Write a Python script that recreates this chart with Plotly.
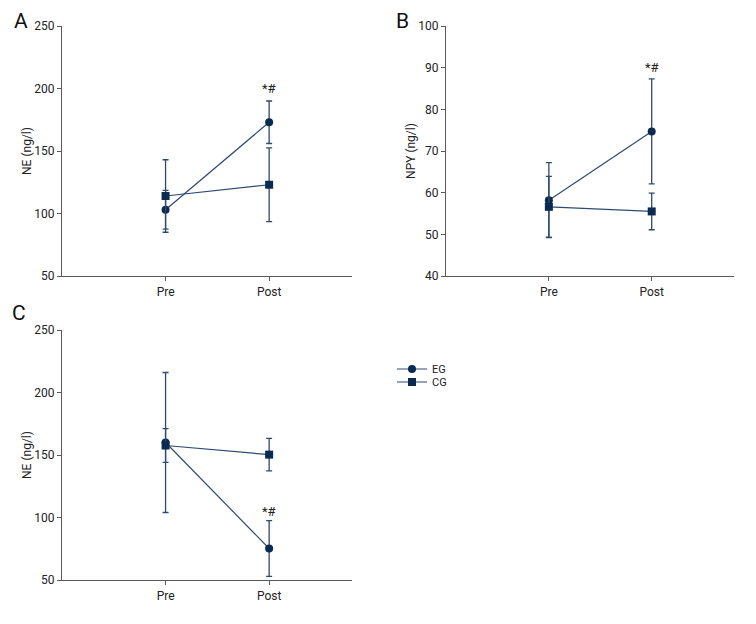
import plotly.graph_objects as go

timepoints = ["Pre", "Post"]
x_pos = [1, 2]

# Panel A: NE (ng/l)
a_eg = [103, 173]
a_eg_sd = [15.5, 17]
a_cg = [114, 123]
a_cg_sd = [29, 29.5]

# Panel B: NPY (ng/l)
b_eg = [58.2, 74.7]
b_eg_sd = [9, 12.6]
b_cg = [56.6, 55.5]
b_cg_sd = [7.3, 4.4]

# Panel C: NE (ng/l)
c_eg = [160, 75.2]
c_eg_sd = [56, 22.3]
c_cg = [157.6, 150.3]
c_cg_sd = [13.5, 13]

sig_label = "*#"
groups = ["EG", "CG"]

FONT = "Roboto, Liberation Sans Narrow, sans-serif"
MARK = "#0b2a52"
LINE = "#2e4a70"
AXIS = "#5a5a5a"

W, H, OFF = 740, 608, 8  # page body has an 8px margin


def px_x(sx):
    return (sx - OFF) / W


def px_y(sy):
    return 1 - (sy - OFF) / H


fig = go.Figure()

panels = [
    dict(xa="x", ya="y", eg=a_eg, egs=a_eg_sd, cg=a_cg, cgs=a_cg_sd, legend=True),
    dict(xa="x2", ya="y2", eg=b_eg, egs=b_eg_sd, cg=b_cg, cgs=b_cg_sd, legend=False),
    dict(xa="x3", ya="y3", eg=c_eg, egs=c_eg_sd, cg=c_cg, cgs=c_cg_sd, legend=False),
]

for p in panels:
    for name, vals, sds, sym, lg in [(groups[0], p["eg"], p["egs"], "circle", "legend"),
                                     (groups[1], p["cg"], p["cgs"], "square", "legend2")]:
        fig.add_trace(go.Scatter(
            x=x_pos, y=vals, name=name, mode="lines+markers",
            xaxis=p["xa"], yaxis=p["ya"], showlegend=p["legend"], legend=lg,
            line=dict(color=LINE, width=1.2),
            marker=dict(symbol=sym, size=8, color=MARK),
            error_y=dict(type="data", array=sds, visible=True,
                         color=LINE, thickness=1.3, width=3),
        ))

axis_common = dict(showline=True, linecolor=AXIS, linewidth=1.2, ticks="outside",
                   tickcolor=AXIS, ticklen=4, tickwidth=1, showgrid=False, zeroline=False,
                   automargin=False,
                   tickfont=dict(family=FONT, size=12, color="#222"))

xdomA = [px_x(62), px_x(352)]
xdomB = [px_x(446), px_x(734)]
ydomTop = [px_y(276), px_y(26)]
ydomBot = [px_y(580), px_y(330)]

xcommon = dict(axis_common, range=[0, 2.8], tickvals=x_pos, ticktext=timepoints)
ytitle_font = dict(family=FONT, size=12, color="#222")

legend_common = dict(xanchor="left", yanchor="middle",
                     font=dict(family=FONT, size=11, color="#222"),
                     itemwidth=30, bgcolor="rgba(0,0,0,0)", borderwidth=0)

fig.update_layout(
    width=W, height=H,
    margin=dict(l=0, r=0, t=0, b=0, autoexpand=False),
    paper_bgcolor="white", plot_bgcolor="white",
    font=dict(family=FONT, size=12, color="#222"),
    xaxis=dict(xcommon, domain=xdomA, anchor="y"),
    yaxis=dict(axis_common, domain=ydomTop, anchor="x", range=[50, 250], dtick=50,
               title=dict(text="NE (ng/l)", font=ytitle_font, standoff=0)),
    xaxis2=dict(xcommon, domain=xdomB, anchor="y2"),
    yaxis2=dict(axis_common, domain=ydomTop, anchor="x2", range=[40, 100], dtick=10,
                title=dict(text="NPY (ng/l)", font=ytitle_font, standoff=0)),
    xaxis3=dict(xcommon, domain=xdomA, anchor="y3"),
    yaxis3=dict(axis_common, domain=ydomBot, anchor="x3", range=[50, 250], dtick=50,
                title=dict(text="NE (ng/l)", font=ytitle_font, standoff=0)),
    legend=dict(legend_common, x=px_x(392), y=px_y(369)),
    legend2=dict(legend_common, x=px_x(392), y=px_y(382)),
    showlegend=True,
)

# significance marks
for xa, ya, yv in [("x", "y", 200), ("x2", "y2", 90), ("x3", "y3", 105)]:
    fig.add_annotation(x=2, y=yv, xref=xa, yref=ya, text=sig_label, showarrow=False,
                       font=dict(family=FONT, size=13, color="#222"), yanchor="middle")

# panel letters
for txt, sx, sy in [("A", 21, 21), ("B", 402, 21), ("C", 19, 313)]:
    fig.add_annotation(x=px_x(sx), y=px_y(sy), xref="paper", yref="paper", text=txt,
                       xanchor="center", yanchor="middle",
                       showarrow=False, font=dict(family=FONT, size=21, color="#111"))

fig.write_html("out.html")
